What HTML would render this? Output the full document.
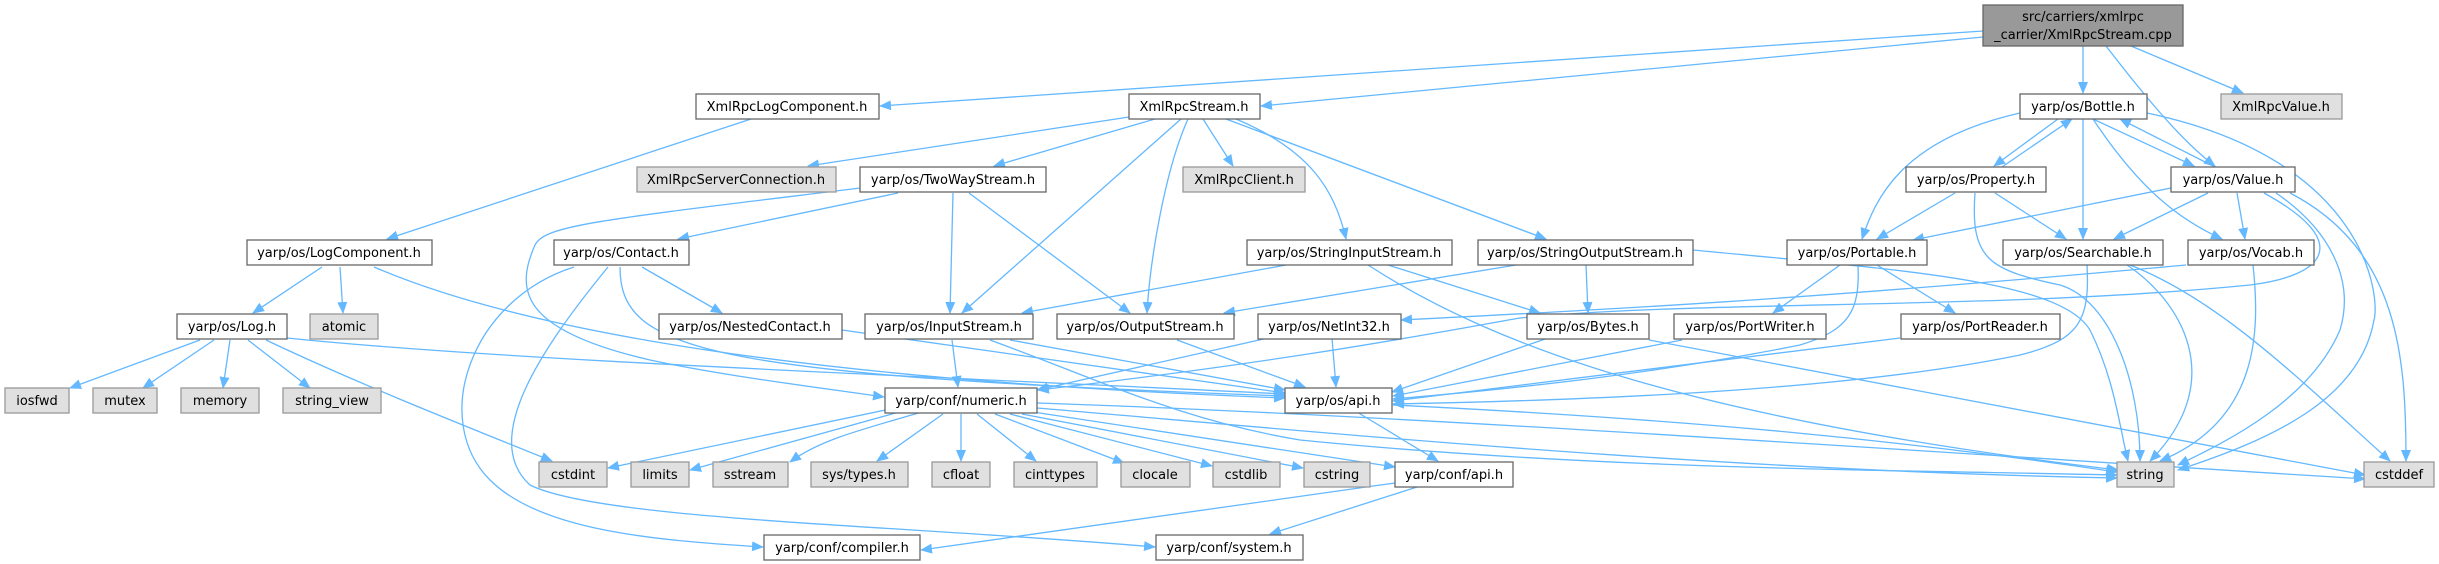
<!DOCTYPE html>
<html><head><meta charset="utf-8"><style>
html,body{margin:0;padding:0;background:#fff;}
svg{display:block;}
text{font-family:"DejaVu Sans","Liberation Sans",sans-serif;font-size:13px;fill:#000;text-anchor:middle;}
.e{fill:none;stroke:#63b8ff;stroke-width:1.3;marker-end:url(#a);}
.w{fill:#fff;stroke:#666;stroke-width:1.3;}
.g{fill:#e0e0e0;stroke:#999;stroke-width:1.3;}
</style></head><body>
<svg width="2439" height="564" viewBox="0 0 2439 564" xmlns="http://www.w3.org/2000/svg">
<defs><marker id="a" markerWidth="12" markerHeight="10" refX="11" refY="5" orient="auto" markerUnits="userSpaceOnUse"><path d="M0,0 L12,5 L0,10 z" fill="#63b8ff"/></marker></defs>
<g>
<!-- top -->
<path class="e" d="M1983,31 L880,106"/>
<path class="e" d="M1983,37 L1261,106"/>
<path class="e" d="M2083,46 L2083,93"/>
<path class="e" d="M2106,46 C2140,90 2180,140 2215,166"/>
<path class="e" d="M2131,46 L2243,93"/>
<!-- XmlRpcLogComponent -->
<path class="e" d="M751,119 L387,239"/>
<!-- XmlRpcStream -->
<path class="e" d="M1129,117 L808,166"/>
<path class="e" d="M1155,119 L994,166"/>
<path class="e" d="M1181,119 L962,313"/>
<path class="e" d="M1188,119 C1165,170 1150,260 1147,313"/>
<path class="e" d="M1203,119 L1233,166"/>
<path class="e" d="M1236,119 C1310,150 1335,190 1346,239"/>
<path class="e" d="M1226,119 L1546,239"/>
<!-- TwoWayStream -->
<path class="e" d="M898,193 L678,239"/>
<path class="e" d="M953,193 L950,313"/>
<path class="e" d="M969,193 L1130,313"/>
<path class="e" d="M860,188 C600,220 545,225 535,245 C515,290 520,330 650,360 C720,375 800,385 884,397"/>
<!-- LogComponent -->
<path class="e" d="M322,267 L253,313"/>
<path class="e" d="M340,267 L343,313"/>
<path class="e" d="M374,267 C520,330 800,380 1285,398"/>
<!-- Log.h -->
<path class="e" d="M200,340 L70,388"/>
<path class="e" d="M214,340 L143,388"/>
<path class="e" d="M230,340 L223,388"/>
<path class="e" d="M248,340 L310,388"/>
<path class="e" d="M266,340 C350,380 450,420 552,461"/>
<path class="e" d="M287,338 C500,360 900,375 1285,394"/>
<!-- Contact -->
<path class="e" d="M642,267 L722,313"/>
<path class="e" d="M620,267 C620,350 700,375 1285,396"/>
<path class="e" d="M574,267 C470,300 430,420 490,480 C540,530 650,540 763,547"/>
<path class="e" d="M608,267 C540,350 480,440 530,485 C600,520 900,525 1155,547"/>
<!-- NestedContact -->
<path class="e" d="M842,330 L1285,393"/>
<!-- InputStream -->
<path class="e" d="M952,340 L958,387"/>
<path class="e" d="M1010,340 L1285,390"/>
<path class="e" d="M990,340 C1100,380 1180,420 1300,440 C1600,470 1900,470 2117,475"/>
<!-- OutputStream -->
<path class="e" d="M1177,340 L1305,387"/>
<!-- StringInputStream -->
<path class="e" d="M1286,265 L1022,313"/>
<path class="e" d="M1388,265 L1540,313"/>
<path class="e" d="M1368,265 C1500,350 1700,420 2118,470"/>
<!-- StringOutputStream -->
<path class="e" d="M1516,265 L1224,313"/>
<path class="e" d="M1586,265 L1588,313"/>
<path class="e" d="M1693,250 C1900,270 2060,280 2090,330 C2115,380 2120,430 2128,461"/>
<!-- NetInt32 -->
<path class="e" d="M1268,338 L1037,390"/>
<path class="e" d="M1332,338 L1336,387"/>
<!-- Bytes -->
<path class="e" d="M1548,338 L1392,392"/>
<path class="e" d="M1649,340 L2365,475"/>
<!-- Portable -->
<path class="e" d="M1840,265 L1773,313"/>
<path class="e" d="M1877,265 L1955,313"/>
<path class="e" d="M1858,265 C1860,310 1850,330 1800,345 C1650,375 1500,390 1393,399"/>
<!-- PortWriter / PortReader -->
<path class="e" d="M1682,340 L1393,396"/>
<path class="e" d="M1900,338 L1393,401"/>
<!-- Searchable -->
<path class="e" d="M2087,265 C2090,320 2080,340 2020,355 C1850,390 1600,400 1393,404"/>
<path class="e" d="M2127,265 C2180,300 2230,380 2150,461"/>
<path class="e" d="M2130,265 C2220,300 2300,380 2390,461"/>
<!-- Vocab -->
<path class="e" d="M2186,265 C1800,300 1600,310 1401,320"/>
<path class="e" d="M2253,265 C2260,330 2260,420 2160,461"/>
<!-- Value -->
<path class="e" d="M2171,188 L1913,240"/>
<path class="e" d="M2208,193 L2114,239"/>
<path class="e" d="M2237,193 L2245,239"/>
<path class="e" d="M2215,167 L2120,119"/>
<path class="e" d="M2264,193 C2350,240 2330,275 2250,285 C2000,310 1700,300 1520,318 C1450,330 1300,360 1038,390"/>
<path class="e" d="M2276,193 C2330,230 2355,280 2340,330 C2310,400 2230,440 2178,465"/>
<path class="e" d="M2290,193 C2400,250 2406,360 2406,461"/>
<!-- Bottle -->
<path class="e" d="M2058,119 L1994,166"/>
<path class="e" d="M2002,167 L2072,119"/>
<path class="e" d="M2093,119 L2194,166"/>
<path class="e" d="M2020,113 C1900,140 1875,200 1862,239"/>
<path class="e" d="M2083,119 L2083,239"/>
<path class="e" d="M2093,119 C2140,190 2180,220 2222,239"/>
<path class="e" d="M2147,113 C2370,160 2380,300 2374,320 C2360,400 2270,440 2178,470"/>
<!-- Property -->
<path class="e" d="M1955,193 L1877,239"/>
<path class="e" d="M1995,193 L2066,239"/>
<path class="e" d="M1975,193 C1970,260 1990,270 2060,285 C2110,300 2140,380 2140,461"/>
<!-- numeric -->
<path class="e" d="M900,407 L608,468"/>
<path class="e" d="M910,409 L690,470"/>
<path class="e" d="M922,412 C860,430 820,440 790,462"/>
<path class="e" d="M943,414 L877,461"/>
<path class="e" d="M961,414 L961,461"/>
<path class="e" d="M977,414 L1036,461"/>
<path class="e" d="M995,414 L1124,463"/>
<path class="e" d="M1010,414 L1212,466"/>
<path class="e" d="M1022,414 L1303,468"/>
<path class="e" d="M1033,412 L1395,467"/>
<path class="e" d="M1037,408 C1300,430 1700,470 2117,478"/>
<path class="e" d="M1037,403 C1400,415 1900,450 2365,479"/>
<!-- os/api -->
<path class="e" d="M1357,412 L1438,461"/>
<path class="e" d="M1393,405 C1700,420 1900,440 2117,472"/>
<!-- conf/api -->
<path class="e" d="M1395,483 C1200,510 1000,540 921,550"/>
<path class="e" d="M1417,487 L1270,534"/>
</g>
<g>
<rect class="w" x="1983" y="5" width="200" height="41" style="fill:#999"/>
<text x="2083" y="21">src/carriers/xmlrpc</text>
<text x="2083" y="39">_carrier/XmlRpcStream.cpp</text>

<rect class="w" x="696" y="94" width="183" height="25"/><text x="787" y="111">XmlRpcLogComponent.h</text>
<rect class="w" x="1129" y="94" width="131" height="25"/><text x="1194" y="111">XmlRpcStream.h</text>
<rect class="w" x="2020" y="94" width="127" height="25"/><text x="2083" y="111">yarp/os/Bottle.h</text>
<rect class="g" x="2221" y="94" width="121" height="25"/><text x="2281" y="111">XmlRpcValue.h</text>

<rect class="g" x="637" y="167" width="199" height="25"/><text x="736" y="184">XmlRpcServerConnection.h</text>
<rect class="w" x="860" y="167" width="186" height="25"/><text x="953" y="184">yarp/os/TwoWayStream.h</text>
<rect class="g" x="1183" y="167" width="122" height="25"/><text x="1244" y="184">XmlRpcClient.h</text>
<rect class="w" x="1906" y="167" width="140" height="25"/><text x="1976" y="184">yarp/os/Property.h</text>
<rect class="w" x="2171" y="167" width="124" height="25"/><text x="2233" y="184">yarp/os/Value.h</text>

<rect class="w" x="247" y="240" width="185" height="25"/><text x="339" y="257">yarp/os/LogComponent.h</text>
<rect class="w" x="554" y="240" width="135" height="25"/><text x="621" y="257">yarp/os/Contact.h</text>
<rect class="w" x="1247" y="240" width="205" height="25"/><text x="1349" y="257">yarp/os/StringInputStream.h</text>
<rect class="w" x="1478" y="240" width="215" height="25"/><text x="1585" y="257">yarp/os/StringOutputStream.h</text>
<rect class="w" x="1787" y="240" width="140" height="25"/><text x="1857" y="257">yarp/os/Portable.h</text>
<rect class="w" x="2003" y="240" width="160" height="25"/><text x="2083" y="257">yarp/os/Searchable.h</text>
<rect class="w" x="2188" y="240" width="126" height="25"/><text x="2251" y="257">yarp/os/Vocab.h</text>

<rect class="w" x="177" y="314" width="110" height="25"/><text x="232" y="331">yarp/os/Log.h</text>
<rect class="g" x="310" y="314" width="68" height="25"/><text x="344" y="331">atomic</text>
<rect class="w" x="659" y="314" width="183" height="25"/><text x="750" y="331">yarp/os/NestedContact.h</text>
<rect class="w" x="865" y="314" width="168" height="25"/><text x="949" y="331">yarp/os/InputStream.h</text>
<rect class="w" x="1057" y="314" width="177" height="25"/><text x="1145" y="331">yarp/os/OutputStream.h</text>
<rect class="w" x="1258" y="314" width="143" height="25"/><text x="1329" y="331">yarp/os/NetInt32.h</text>
<rect class="w" x="1527" y="314" width="122" height="25"/><text x="1588" y="331">yarp/os/Bytes.h</text>
<rect class="w" x="1674" y="314" width="152" height="25"/><text x="1750" y="331">yarp/os/PortWriter.h</text>
<rect class="w" x="1901" y="314" width="159" height="25"/><text x="1980" y="331">yarp/os/PortReader.h</text>

<rect class="g" x="5" y="388" width="64" height="25"/><text x="37" y="405">iosfwd</text>
<rect class="g" x="93" y="388" width="64" height="25"/><text x="125" y="405">mutex</text>
<rect class="g" x="181" y="388" width="78" height="25"/><text x="220" y="405">memory</text>
<rect class="g" x="283" y="388" width="98" height="25"/><text x="332" y="405">string_view</text>
<rect class="w" x="885" y="388" width="152" height="25"/><text x="961" y="405">yarp/conf/numeric.h</text>
<rect class="w" x="1285" y="388" width="107" height="25"/><text x="1338" y="405">yarp/os/api.h</text>

<rect class="g" x="539" y="462" width="68" height="25"/><text x="573" y="479">cstdint</text>
<rect class="g" x="631" y="462" width="58" height="25"/><text x="660" y="479">limits</text>
<rect class="g" x="713" y="462" width="75" height="25"/><text x="750" y="479">sstream</text>
<rect class="g" x="811" y="462" width="97" height="25"/><text x="859" y="479">sys/types.h</text>
<rect class="g" x="932" y="462" width="58" height="25"/><text x="961" y="479">cfloat</text>
<rect class="g" x="1014" y="462" width="83" height="25"/><text x="1055" y="479">cinttypes</text>
<rect class="g" x="1121" y="462" width="69" height="25"/><text x="1155" y="479">clocale</text>
<rect class="g" x="1213" y="462" width="67" height="25"/><text x="1246" y="479">cstdlib</text>
<rect class="g" x="1304" y="462" width="66" height="25"/><text x="1337" y="479">cstring</text>
<rect class="w" x="1395" y="462" width="118" height="25"/><text x="1454" y="479">yarp/conf/api.h</text>
<rect class="g" x="2117" y="462" width="57" height="25"/><text x="2145" y="479">string</text>
<rect class="g" x="2364" y="462" width="70" height="25"/><text x="2399" y="479">cstddef</text>

<rect class="w" x="764" y="535" width="156" height="25"/><text x="842" y="552">yarp/conf/compiler.h</text>
<rect class="w" x="1156" y="535" width="147" height="25"/><text x="1229" y="552">yarp/conf/system.h</text>
</g>
</svg>
</body></html>
